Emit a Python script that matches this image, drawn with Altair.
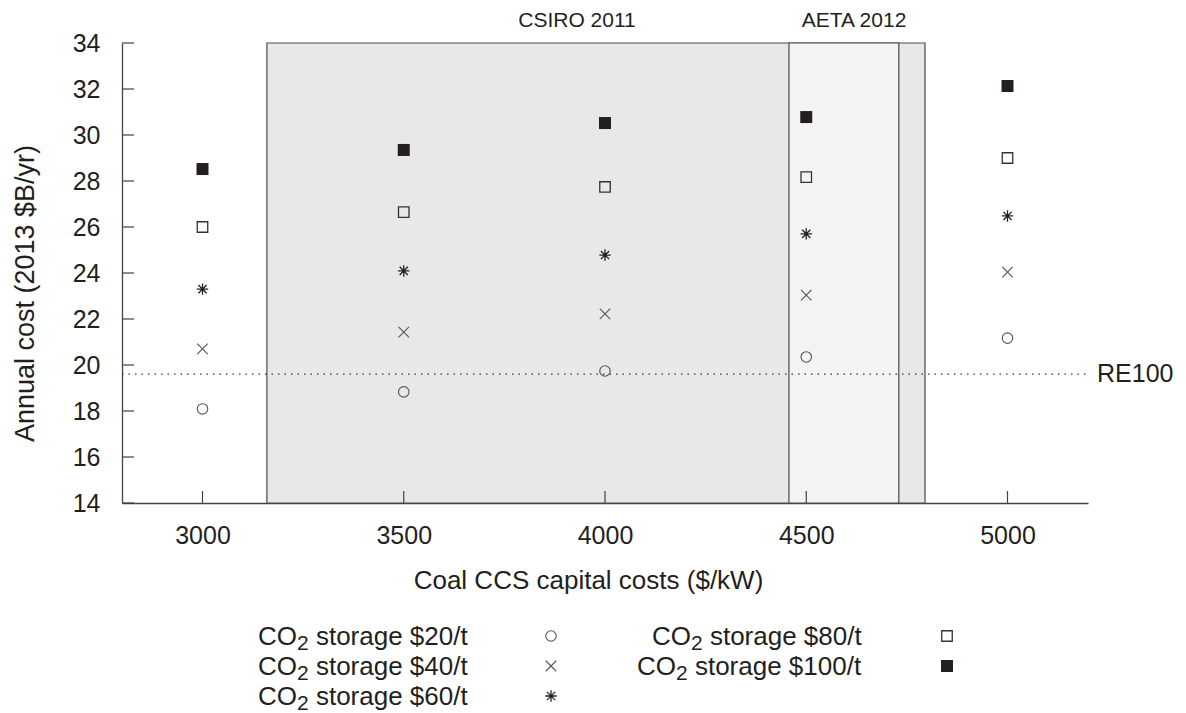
import altair as alt
import pandas as pd

# ---------------- data ----------------
capital_costs = [3000, 3500, 4000, 4500, 5000]
series_labels = ["$20/t", "$40/t", "$60/t", "$80/t", "$100/t"]
cost_20 = [18.09, 18.83, 19.74, 20.35, 21.17]
cost_40 = [20.70, 21.43, 22.22, 23.04, 24.04]
cost_60 = [23.30, 24.09, 24.78, 25.70, 26.48]
cost_80 = [26.00, 26.65, 27.74, 28.17, 29.00]
cost_100 = [28.52, 29.35, 30.52, 30.78, 32.13]
re100_cost = 19.6
csiro_range = [3160, 4795]
aeta_range = [4457, 4730]
y_ticks = [14, 16, 18, 20, 22, 24, 26, 28, 30, 32, 34]
x_ticks = [3000, 3500, 4000, 4500, 5000]

all_costs = [cost_20, cost_40, cost_60, cost_80, cost_100]

# ---------------- layout / style ----------------
W, H = 966, 460
FONT = "Liberation Sans"
TXT = "#231f20"
AX = "#444444"

xscale = alt.Scale(domain=[2800, 5200], nice=False, zero=False)
yscale = alt.Scale(domain=[14, 34], nice=False, zero=False)

Y_AXIS = alt.Axis(
    values=y_ticks, ticks=False, tickSize=0, grid=False, domain=True,
    domainColor=AX, domainWidth=1.3, labelFont=FONT, labelFontSize=25,
    labelColor=TXT, labelPadding=22, labelFlush=False, labelOverlap=False,
    format="d",
    title="Annual cost (2013 $B/yr)", titleFont=FONT, titleFontSize=27,
    titleFontWeight="normal", titleColor=TXT, titleAngle=270,
    titleX=-97, titleY=250, titleAlign="center", titleBaseline="middle")
X_AXIS = alt.Axis(
    values=x_ticks, ticks=False, tickSize=0, grid=False, domain=True,
    domainColor=AX, domainWidth=1.3, labelFont=FONT, labelFontSize=25,
    labelColor=TXT, labelPadding=20, labelFlush=False, labelOverlap=False,
    format="d",
    title="Coal CCS capital costs ($/kW)", titleFont=FONT, titleFontSize=26,
    titleFontWeight="normal", titleColor=TXT, titleX=466, titleY=85,
    titleAlign="center", titleBaseline="alphabetic")

ASTERISK = "M-1,0L1,0M0,-1L0,1M-0.72,-0.72L0.72,0.72M-0.72,0.72L0.72,-0.72"
CROSS = "M-1,-1L1,1M-1,1L1,-1"

styles = [
    dict(shape="circle", size=110, filled=False, color="#555555", strokeWidth=1.1),
    dict(shape=CROSS, size=110, filled=False, color="#555555", strokeWidth=1.1),
    dict(shape=ASTERISK, size=130, filled=False, color="#222222", strokeWidth=1.3),
    dict(shape="square", size=110, filled=False, color="#333333", strokeWidth=1.3),
    dict(shape="square", size=144, filled=True, color="#231f20", strokeWidth=0),
]

layers = []

# shaded regions
reg_df = pd.DataFrame({"x0": [csiro_range[0]], "x1": [csiro_range[1]], "y0": [14], "y1": [34]})
layers.append(
    alt.Chart(reg_df).mark_rect(fill="#e8e8eb", stroke="#4a4a4a", strokeWidth=1.2).encode(
        x=alt.X("x0:Q", scale=xscale, axis=X_AXIS), x2="x1:Q",
        y=alt.Y("y0:Q", scale=yscale, axis=Y_AXIS), y2="y1:Q")
)
aeta_df = pd.DataFrame({"x0": [aeta_range[0]], "x1": [aeta_range[1]], "y0": [14], "y1": [34]})
layers.append(
    alt.Chart(aeta_df).mark_rect(fill="#f3f3f3", stroke="#4a4a4a", strokeWidth=1.2).encode(
        x=alt.X("x0:Q", scale=xscale, axis=X_AXIS), x2="x1:Q",
        y=alt.Y("y0:Q", scale=yscale, axis=Y_AXIS), y2="y1:Q")
)

# RE100 dotted line
re_df = pd.DataFrame({"y": [re100_cost], "label": ["RE100"]})
layers.append(
    alt.Chart(re_df).mark_rule(color="#333333", strokeWidth=1.2, strokeDash=[1.5, 5]).encode(
        y=alt.Y("y:Q", scale=yscale, axis=Y_AXIS), x=alt.value(0), x2=alt.value(W))
)
layers.append(
    alt.Chart(re_df).mark_text(font=FONT, fontSize=25, color=TXT, align="left", baseline="middle").encode(
        y=alt.Y("y:Q", scale=yscale, axis=Y_AXIS), x=alt.value(W + 9), text="label:N")
)

# inward ticks drawn as rules
yt_df = pd.DataFrame({"v": y_ticks})
layers.append(
    alt.Chart(yt_df).mark_rule(color=AX, strokeWidth=1.2).encode(
        y=alt.Y("v:Q", scale=yscale, axis=Y_AXIS),
        x=alt.value(0), x2=alt.value(12))
)
xt_df = pd.DataFrame({"v": x_ticks})
layers.append(
    alt.Chart(xt_df).mark_rule(color=AX, strokeWidth=1.2).encode(
        x=alt.X("v:Q", scale=xscale, axis=X_AXIS),
        y=alt.value(H), y2=alt.value(H - 12))
)

# data points
for lab, vals, st in zip(series_labels, all_costs, styles):
    df = pd.DataFrame({"capital": capital_costs, "cost": vals, "series": lab})
    layers.append(
        alt.Chart(df).mark_point(opacity=1, **st).encode(
            x=alt.X("capital:Q", scale=xscale, axis=X_AXIS),
            y=alt.Y("cost:Q", scale=yscale, axis=Y_AXIS))
    )

# annotations above the shaded regions
ann_df = pd.DataFrame({"t": ["CSIRO 2011"]})
layers.append(alt.Chart(ann_df).mark_text(font=FONT, fontSize=21, color=TXT, align="center",
                                          baseline="alphabetic").encode(
    x=alt.value(455), y=alt.value(-16), text="t:N"))
ann2_df = pd.DataFrame({"t": ["AETA 2012"]})
layers.append(alt.Chart(ann2_df).mark_text(font=FONT, fontSize=21, color=TXT, align="center",
                                           baseline="alphabetic").encode(
    x=alt.value(732), y=alt.value(-16), text="t:N"))

# legend (text first, symbol after, two columns)
LFS = 26
SUBFS = 21
w_co = 1.5 * LFS
w_2 = 0.556 * SUBFS
w_sp = 0.278 * LFS
leg_text_x = [136, 136, 136, 530, 515]
leg_sym_x = [429, 429, 429, 825, 825]
leg_base_y = [602, 632, 662, 602, 632]
for i, (lab, st) in enumerate(zip(series_labels, styles)):
    tx, sx, by = leg_text_x[i], leg_sym_x[i], leg_base_y[i]
    d1 = pd.DataFrame({"t": ["CO"]})
    layers.append(alt.Chart(d1).mark_text(font=FONT, fontSize=LFS, color=TXT, align="left",
                                          baseline="alphabetic").encode(
        x=alt.value(tx), y=alt.value(by), text="t:N"))
    d2 = pd.DataFrame({"t": ["2"]})
    layers.append(alt.Chart(d2).mark_text(font=FONT, fontSize=SUBFS, color=TXT, align="left",
                                          baseline="alphabetic").encode(
        x=alt.value(tx + w_co), y=alt.value(by + 5), text="t:N"))
    d3 = pd.DataFrame({"t": ["storage " + lab]})
    layers.append(alt.Chart(d3).mark_text(font=FONT, fontSize=LFS, color=TXT, align="left",
                                          baseline="alphabetic").encode(
        x=alt.value(tx + w_co + w_2 + w_sp), y=alt.value(by), text="t:N"))
    d4 = pd.DataFrame({"s": [lab]})
    layers.append(alt.Chart(d4).mark_point(opacity=1, **st).encode(
        x=alt.value(sx), y=alt.value(by - 9)))

chart = alt.layer(*layers).properties(
    width=W, height=H,
    autosize=alt.AutoSizeParams(type="none"),
    padding={"left": 122, "top": 43, "right": 98, "bottom": 210},
    background="white",
).configure_view(stroke=None)

chart.save("out.html", embed_options={"renderer": "svg", "actions": False})
